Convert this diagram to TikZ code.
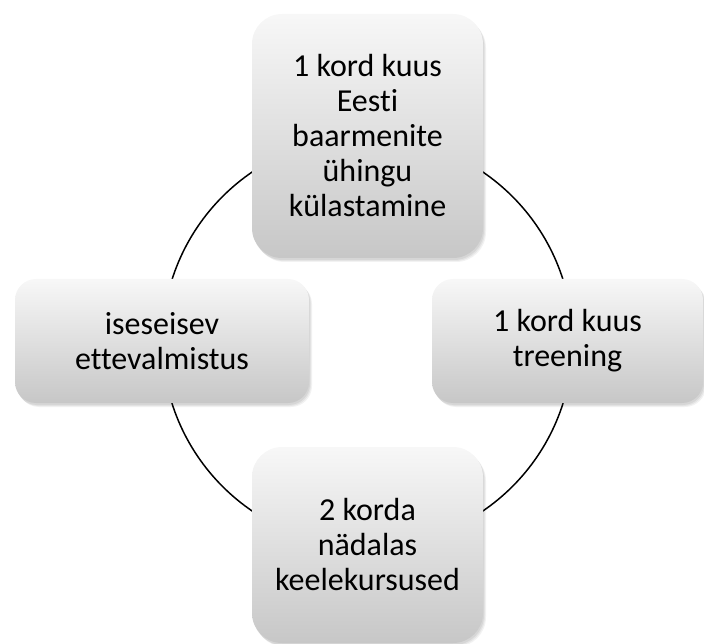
\documentclass[tikz,border=0pt]{standalone}
\usepackage{fontspec}
\setmainfont{Carlito}[Ligatures=NoCommon]
\begin{document}
\begin{tikzpicture}[x=1pt,y=-1pt,
  cyclebox/.style={rectangle, inner sep=0pt, align=center,
    font=\fontsize{32}{35}\selectfont,
    top color=white!97!black, bottom color=white!78!black,
    preaction={fill=black,opacity=.06,transform canvas={xshift=1pt,yshift=-2pt}},
    preaction={fill=black,opacity=.06,transform canvas={xshift=2pt,yshift=-3pt}},
    preaction={fill=black,opacity=.05,transform canvas={xshift=3pt,yshift=-4pt}}},
  ring/.style={draw=black, line width=1.5pt}]
\useasboundingbox (0,0) rectangle (704,644);
\coordinate (c) at (367.5,341.5);
\draw[ring] (c) circle[radius=205];
\node[cyclebox, rounded corners=30pt, minimum width=231pt, minimum height=244pt] (top) at (367.5,136)
  {1 kord kuus\\Eesti\\baarmenite\\ühingu\\külastamine};
\node[cyclebox, rounded corners=21pt, minimum width=271pt, minimum height=124pt] (right) at (567.5,341)
  {1 kord kuus\\treening};
\node[cyclebox, rounded corners=30pt, minimum width=231pt, minimum height=196pt] (bottom) at (367.5,545)
  {2 korda\\nädalas\\keelekursused};
\node[cyclebox, rounded corners=21pt, minimum width=294pt, minimum height=124pt] (left) at (162,341)
  {iseseisev\\ettevalmistus};
\end{tikzpicture}
\end{document}
